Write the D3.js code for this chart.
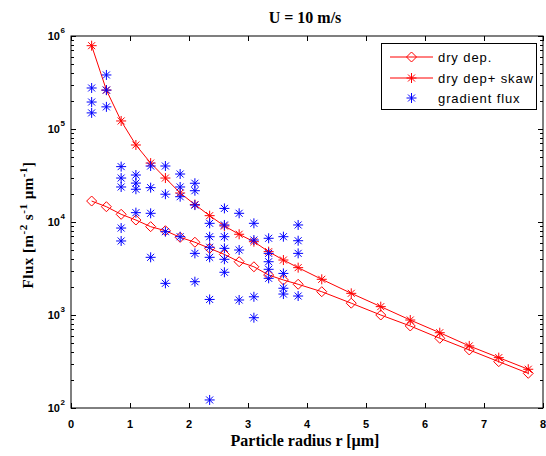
<!DOCTYPE html>
<html><head><meta charset="utf-8">
<script src="https://cdn.jsdelivr.net/npm/d3@7"></script>
<style>body{margin:0;background:#fff}svg{display:block}</style>
</head><body>
<svg id="c" width="546" height="456"></svg>
<script>
const radius = [0.35,0.6,0.85,1.1,1.35,1.6,1.85,2.1,2.35,2.6,2.85,3.1,3.35,3.6,3.85,4.25,4.75,5.25,5.75,6.25,6.75,7.25,7.75];
const dryDep = [16800,14600,12100,10500,8910,8060,6840,6060,5210,4480,3740,3300,2690,2380,2140,1780,1340,1000,762,562,421,315,236];
const dryDepSkaw = [787000,262000,122000,67300,43000,29700,20500,15400,11700,9060,7380,6140,4800,3900,3230,2420,1710,1230,883,645,465,348,261];
const gradX = [0.35,0.35,0.35, 0.6,0.6,0.6, 0.85,0.85,0.85,0.85,0.85, 1.1,1.1,1.1,1.1, 1.35,1.35,1.35,1.35, 1.6,1.6,1.6,1.6, 1.85,1.85,1.85,1.85, 2.1,2.1,2.1,2.1,2.1, 2.35,2.35,2.35,2.35,2.35,2.35, 2.6,2.6,2.6,2.6,2.6,2.6, 2.85,2.85,2.85, 3.1,3.1,3.1,3.1, 3.35,3.35,3.35,3.35,3.35, 3.6,3.6,3.6,3.6, 3.85,3.85,3.85,3.85];
const gradY = [276000,195000,149000, 381000,262000,173000, 39400,29700,23800,8610,6250, 32000,26200,22500,12600, 40000,23400,12400,4170, 40000,19900,7870,2190, 32800,23800,18700,6950, 26100,21700,15200,4600,2280, 9680,6950,5350,4170,1470,122, 14000,9290,6950,5210,3970,2880, 12400,5000,1450, 9680,6400,1570,935, 6680,4600,3740,3100,2480, 6950,2800,1940,1680, 9290,6290,4600,1600];
const xTicks = [0,1,2,3,4,5,6,7,8];
const yTickExp = [2,3,4,5,6];
const legendLabels = ["dry dep.","dry dep+ skaw","gradient flux"];

const svg = d3.select("#c");
const L=71, R=543, T=36, B=408;
const x = d3.scaleLinear().domain([0,8]).range([L,R]);
const y = d3.scaleLog().domain([100,1e6]).range([B,T]);

// frame
svg.append("rect").attr("x",L).attr("y",T).attr("width",R-L).attr("height",B-T)
  .attr("fill","none").attr("stroke","#000").attr("stroke-width",1);

// x ticks (inward, bottom & top)
const tk = svg.append("g").attr("stroke","#000").attr("stroke-width",1);
xTicks.forEach(v=>{
  const px = Math.round(x(v))+0.5;
  tk.append("line").attr("x1",px).attr("x2",px).attr("y1",B).attr("y2",B-5);
  tk.append("line").attr("x1",px).attr("x2",px).attr("y1",T).attr("y2",T+5);
});
// y ticks major + minor
yTickExp.forEach(e=>{
  const py = Math.round(y(Math.pow(10,e)))+0.5;
  tk.append("line").attr("x1",L).attr("x2",L+5).attr("y1",py).attr("y2",py);
  tk.append("line").attr("x1",R).attr("x2",R-5).attr("y1",py).attr("y2",py);
  if(e<6){
    for(let m=2;m<=9;m++){
      const pm = Math.round(y(m*Math.pow(10,e)))+0.5;
      tk.append("line").attr("x1",L).attr("x2",L+3).attr("y1",pm).attr("y2",pm);
      tk.append("line").attr("x1",R).attr("x2",R-3).attr("y1",pm).attr("y2",pm);
    }
  }
});

// tick labels
const tf = "'Liberation Sans', Arial, sans-serif";
xTicks.forEach(v=>{
  svg.append("text").attr("x",x(v)).attr("y",428).attr("text-anchor","middle")
    .attr("font-family",tf).attr("font-weight","bold").attr("font-size",11).text(v);
});
yTickExp.forEach(e=>{
  const py = y(Math.pow(10,e));
  svg.append("text").attr("x",60).attr("y",py+4).attr("text-anchor","end")
    .attr("font-family",tf).attr("font-weight","bold").attr("font-size",11).text("10");
  svg.append("text").attr("x",60.5).attr("y",py-3).attr("text-anchor","start")
    .attr("font-family",tf).attr("font-weight","bold").attr("font-size",8).text(e);
});

// titles
const sf = "'Liberation Serif', 'Times New Roman', serif";
svg.append("text").attr("x",305).attr("y",23).attr("text-anchor","middle")
  .attr("font-family",sf).attr("font-weight","bold").attr("font-size",16).text("U = 10 m/s");
svg.append("text").attr("x",305).attr("y",446).attr("text-anchor","middle")
  .attr("font-family",sf).attr("font-weight","bold").attr("font-size",16).text("Particle radius r [µm]");
const yl = svg.append("text").attr("transform","translate(33,225) rotate(-90)").attr("text-anchor","middle")
  .attr("font-family",sf).attr("font-weight","bold").attr("font-size",15).attr("letter-spacing",0.5);
yl.append("tspan").text("Flux [m");
yl.append("tspan").attr("dy",-6).attr("font-size",11).text("-2");
yl.append("tspan").attr("dy",6).text(" s");
yl.append("tspan").attr("dy",-6).attr("font-size",11).text("-1");
yl.append("tspan").attr("dy",6).text(" µm");
yl.append("tspan").attr("dy",-6).attr("font-size",11).text("-1");
yl.append("tspan").attr("dy",6).text("]");

// markers
const r=5, k=0.7*r;
const starPath = `M${-r},0H${r}M0,${-r}V${r}M${-k},${-k}L${k},${k}M${-k},${k}L${k},${-k}`;
const diamPath = `M0,${-r}L${r},0L0,${r}L${-r},0Z`;

const line = d3.line().x(d=>x(d[0])).y(d=>y(d[1]));
const plot = svg.append("g");
const dd = radius.map((v,i)=>[v,dryDep[i]]);
const ds = radius.map((v,i)=>[v,dryDepSkaw[i]]);
plot.append("path").datum(dd).attr("d",line).attr("fill","none").attr("stroke","#ff0000").attr("stroke-width",1);
plot.selectAll(".dm").data(dd).join("path").attr("transform",d=>`translate(${x(d[0])},${y(d[1])})`)
  .attr("d",diamPath).attr("fill","none").attr("stroke","#ff0000").attr("stroke-width",1);
plot.append("path").datum(ds).attr("d",line).attr("fill","none").attr("stroke","#ff0000").attr("stroke-width",1);
plot.selectAll(".sm").data(ds).join("path").attr("transform",d=>`translate(${x(d[0])},${y(d[1])})`)
  .attr("d",starPath).attr("fill","none").attr("stroke","#ff0000").attr("stroke-width",1);
const gd = gradX.map((v,i)=>[v,gradY[i]]);
plot.selectAll(".gm").data(gd).join("path").attr("transform",d=>`translate(${x(d[0])},${y(d[1])})`)
  .attr("d",starPath).attr("fill","none").attr("stroke","#0000ff").attr("stroke-width",1);

// legend
const lg = svg.append("g");
lg.append("rect").attr("x",381.5).attr("y",43.5).attr("width",155).attr("height",66)
  .attr("fill","#fff").attr("stroke","#000").attr("stroke-width",1);
const ly = [57,78,98];
const lmk = [diamPath, starPath, starPath];
const lcol = ["#ff0000","#ff0000","#0000ff"];
legendLabels.forEach((t,i)=>{
  if(i<2) lg.append("line").attr("x1",390).attr("x2",433).attr("y1",ly[i]).attr("y2",ly[i]).attr("stroke",lcol[i]).attr("stroke-width",1);
  lg.append("path").attr("transform",`translate(411.5,${ly[i]})`).attr("d",lmk[i]).attr("fill","none").attr("stroke",lcol[i]).attr("stroke-width",1);
  lg.append("text").attr("x",438).attr("y",ly[i]+4.5).attr("font-family",tf).attr("font-size",13).attr("letter-spacing",0.9).text(t);
});
</script>
</body></html>
